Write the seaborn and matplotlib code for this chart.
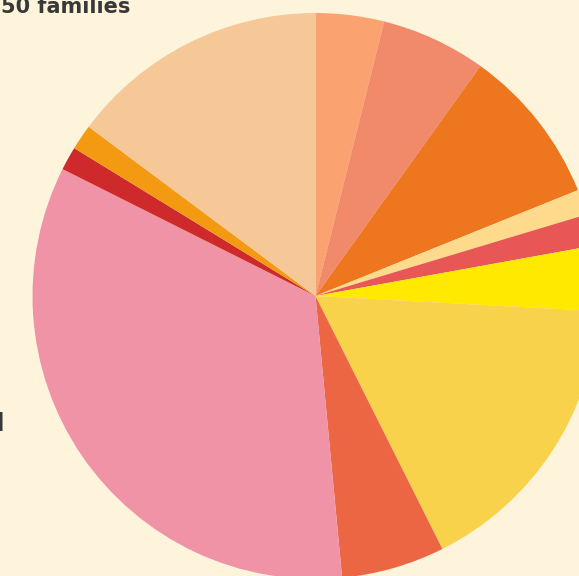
import matplotlib
matplotlib.use("Agg")
import matplotlib.pyplot as plt
import seaborn as sns

sns.set_theme(style="white")
plt.rcParams['font.family'] = ['DejaVu Sans']

# Data (share of total, %), clockwise from 12 o'clock
categories = ["A", "B", "C", "D", "E", "F", "G", "H", "I", "J", "K", "L"]
values = [3.9, 6.0, 9.0, 1.45, 1.8, 3.7, 16.75, 5.9, 33.9, 1.35, 1.45, 14.8]
colors = ["#fba370", "#f08a6a", "#ee761f", "#fdda8c", "#e85656", "#ffe900",
          "#f9d24c", "#ec6644", "#f093a7", "#cf2a2b", "#f39a12", "#f6c797"]
title_text = "50 families"
side_text = "Total"

bg = "#fef4dc"
W, H = 579, 576
fig = plt.figure(figsize=(W / 100, H / 100), dpi=100, facecolor=bg)
ax = fig.add_axes([0, 0, 1, 1])
ax.set_facecolor(bg)

palette = sns.color_palette(colors)
ax.pie(values, colors=palette, startangle=90, counterclock=False,
       center=(315.5, H - 296), radius=283, frame=True,
       wedgeprops=dict(linewidth=0, antialiased=True))

ax.set_xlim(0, W)
ax.set_ylim(0, H)
ax.set_aspect("equal", adjustable="box")
ax.axis("off")

ax.text(130, H - 13, title_text, ha="right", va="baseline", fontsize=15,
        fontweight="bold", color="#383838")
ax.text(5, H - 431, side_text, ha="right", va="baseline", fontsize=17,
        fontweight="bold", color="#383838")

fig.savefig("out.png", dpi=100, facecolor=bg)
